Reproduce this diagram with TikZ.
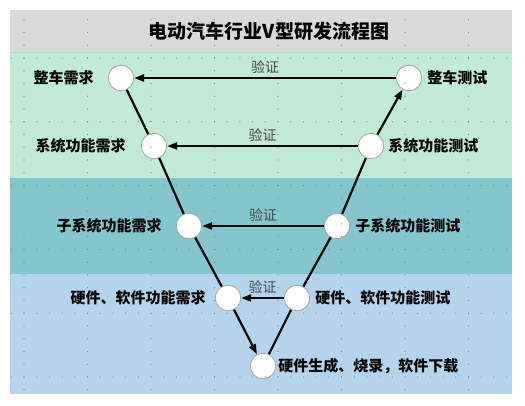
\documentclass[tikz,border=0pt]{standalone}
\usepackage{fontspec}
\setmainfont{Noto Sans CJK SC}
\usetikzlibrary{arrows.meta,positioning}
\definecolor{titlegray}{HTML}{D9D9D9}
\definecolor{bandgreen}{HTML}{C1EBD4}
\definecolor{bandteal}{HTML}{84C6CE}
\definecolor{bandblue}{HTML}{B4D4ED}
\definecolor{edgegreen}{HTML}{A8DCC0}
\definecolor{ringgray}{HTML}{A6A6A6}
\definecolor{checkgray}{HTML}{484848}
\definecolor{griddot}{HTML}{7A7A7A}

\begin{document}
\begin{tikzpicture}[x=1pt,y=-1pt, every node/.style={font=\bfseries\fontsize{15}{15}\selectfont}, stage/.style={circle,draw=ringgray,fill=white,line width=0.8pt,minimum size=25.5pt,inner sep=0pt}, lab/.style={inner sep=0pt}, link/.style={line width=2.2pt}, arr/.style={link,-{Triangle[length=10pt,width=7pt]}}, chk/.style={midway,above=3pt,inner sep=0pt,text=checkgray,font=\fontsize{14}{14}\selectfont}]
\useasboundingbox (0,0) rectangle (525,406);
\fill[titlegray] (10,10) rectangle (512,52);
\fill[bandgreen] (10,52) rectangle (512,178);
\fill[bandteal] (10,178) rectangle (512,274);
\fill[bandblue] (10,274) rectangle (512,394);
\draw[edgegreen,line width=1.5pt] (10,52.5) -- (512,52.5);
\node (title) at (269,31) {\fontsize{19}{19}\selectfont 电动汽车行业V型研发流程图};
\node[stage] (req1) at (121,78) {};
\node[stage] (req2) at (154,146) {};
\node[stage] (req3) at (189,226) {};
\node[stage] (req4) at (228,298) {};
\node[stage] (build) at (263,366) {};
\node[stage] (test4) at (297,298) {};
\node[stage] (test3) at (337,226) {};
\node[stage] (test2) at (371,146) {};
\node[stage] (test1) at (409,78) {};
\node[lab,left=14pt of req1] {整车需求};
\node[lab,left=15pt of req2] {系统功能需求};
\node[lab,left=14pt of req3] {子系统功能需求};
\node[lab,left=9pt of req4] {硬件、软件功能需求};
\node[lab,right=2pt of build] {硬件生成、烧录，软件下载};
\node[lab,right=5pt of test4] {硬件、软件功能测试};
\node[lab,right=5pt of test3] {子系统功能测试};
\node[lab,right=4pt of test2] {系统功能测试};
\node[lab,right=5pt of test1] {整车测试};
\draw[link] (req1) -- (req2);
\draw[link] (req2) -- (req3);
\draw[link] (req3) -- (req4);
\draw[arr] (req4) -- (build);
\draw[link] (build) -- (test4);
\draw[link] (test4) -- (test3);
\draw[link] (test3) -- (test2);
\draw[arr] (test2) -- (test1);
\draw[arr] (test1) -- node[chk] {验证} (req1);
\draw[arr] (test2) -- node[chk] {验证} (req2);
\draw[arr] (test3) -- node[chk] {验证} (req3);
\draw[arr] (test4) -- node[chk] {验证} (req4);
\foreach \k in {0,...,5}
  \foreach \j in {-1,...,38}
    \fill[griddot] ({24+12.7*\j},{58+63.8*\k}) circle (0.6);
\foreach \i in {0,...,7}
  \foreach \j in {-3,...,26}
    \fill[griddot] ({24+63.5*\i},{58+12.76*\j}) circle (0.6);
\end{tikzpicture}
\end{document}
